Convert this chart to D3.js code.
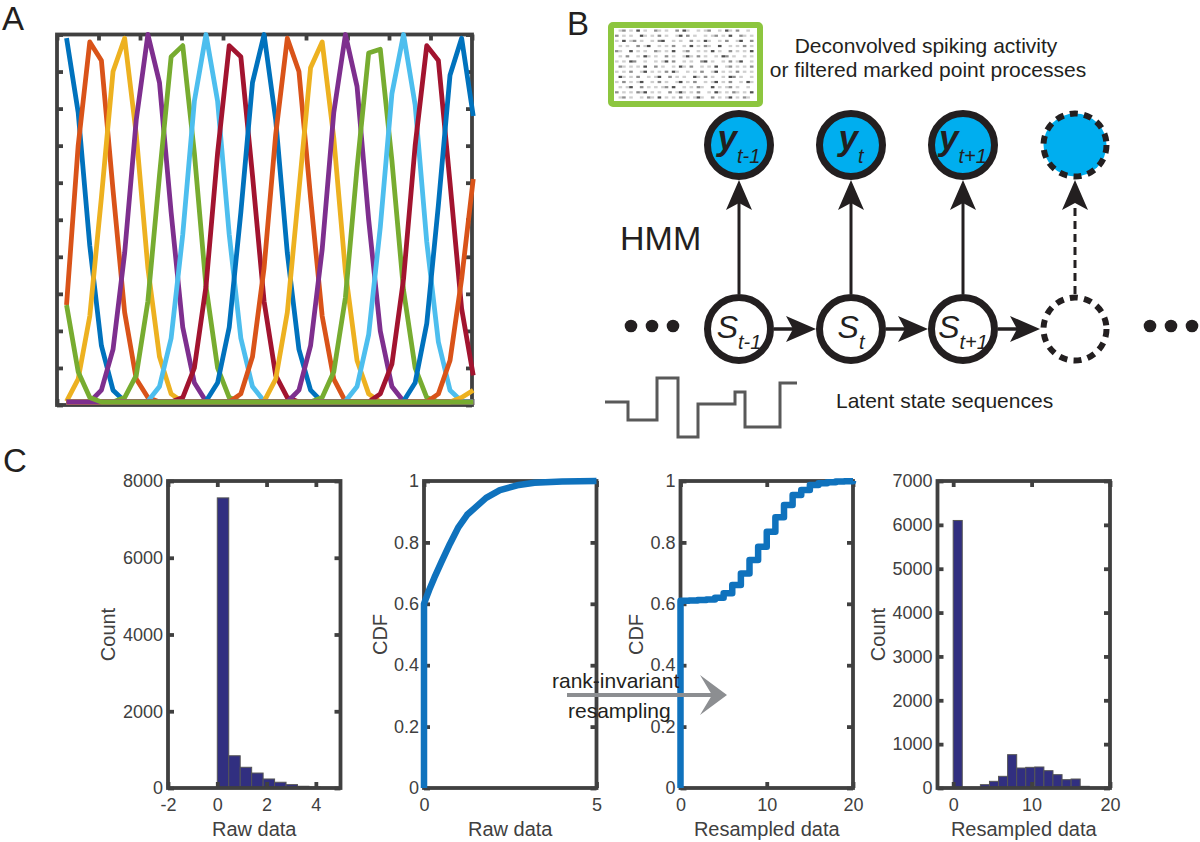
<!DOCTYPE html>
<html>
<head>
<meta charset="utf-8">
<script src="https://cdn.jsdelivr.net/npm/d3@7"></script>
<style>
  body { margin: 0; background: #fff; }
  svg { display: block; }
</style>
</head>
<body>
<svg id="fig" width="1200" height="842"></svg>
<script>
// ---------- data ----------

// A: place-field tuning curves, sampled on a common position grid
const positionGrid = [0.23, 0.51, 0.79, 1.07, 1.35, 1.63, 1.91, 2.19, 2.47, 2.75, 3.03, 3.31,
    3.59, 3.87, 4.15, 4.43, 4.71, 4.99, 5.27, 5.55, 5.83, 6.11, 6.39, 6.67, 6.95, 7.23, 7.51,
    7.79, 8.07, 8.35, 8.63, 8.91, 9.19, 9.47, 9.75, 10.03];
const tuningFloor = 0.008;
// first grid index where each curve leaves the floor
const tuningStart = [0, 0, 0, 3, 5, 7, 10, 12, 15, 17, 20, 22, 24, 27, 29, 32, 34, 0, 0];
const tuningValues = [
    [0.99, 0.79, 0.43, 0.16, 0.04, 0.01],
    [0.27, 0.70, 0.98, 0.93, 0.58, 0.25, 0.07, 0.02],
    [0.01, 0.07, 0.24, 0.56, 0.90, 0.99, 0.73, 0.37, 0.13, 0.03],
    [0.04, 0.15, 0.41, 0.77, 1.00, 0.87, 0.52, 0.21, 0.06, 0.01],
    [0.02, 0.08, 0.28, 0.62, 0.94, 0.97, 0.68, 0.32, 0.10, 0.02],
    [0.01, 0.05, 0.18, 0.46, 0.82, 1.00, 0.82, 0.46, 0.18, 0.05, 0.01],
    [0.02, 0.10, 0.32, 0.68, 0.97, 0.94, 0.62, 0.28, 0.08, 0.02],
    [0.01, 0.06, 0.21, 0.52, 0.87, 1.00, 0.77, 0.41, 0.15, 0.04],
    [0.03, 0.13, 0.37, 0.73, 0.99, 0.90, 0.56, 0.24, 0.07, 0.01],
    [0.01, 0.07, 0.25, 0.58, 0.91, 0.98, 0.72, 0.36, 0.12, 0.03],
    [0.04, 0.16, 0.42, 0.79, 1.00, 0.86, 0.50, 0.20, 0.05, 0.01],
    [0.02, 0.09, 0.29, 0.64, 0.95, 0.96, 0.66, 0.31, 0.10, 0.02],
    [0.01, 0.05, 0.19, 0.48, 0.84, 1.00, 0.81, 0.44, 0.17, 0.04, 0.01],
    [0.03, 0.11, 0.34, 0.70, 0.97, 0.93, 0.60, 0.26, 0.08],
    [0.01, 0.06, 0.22, 0.54, 0.89, 0.99, 0.78],
    [0.03, 0.12, 0.34, 0.61],
    [0.02, 0.04],
    [],
    [0.27, 0.09, 0.02]
];
const positionTicks = [0, 1, 2, 3, 4, 5, 6, 7, 8, 9, 10];
const rateTicks = [0, 0.1, 0.2, 0.3, 0.4, 0.5, 0.6, 0.7, 0.8, 0.9, 1];

// B: spike raster thumbnail ('#' dark, '+' mid, '.' faint) and a latent state path
const rasterRows = [
    " .+ . # .  +. .  + #.  . .+  . #. +  .",
    "+ . .  #. . + .  .# + .  . .+ . #  +. .",
    ". # .+ .  . +#  . .  + . #.  . +  .#  +",
    " . .  + .#  . . +  . # . +.  #  . . + .",
    "+.  # . .  +. . #  .+  . . # .  + . . #",
    " . +  . #. .  + .  .#. + .  . #+ .  . .",
    ". . #+  .  . .# +  . .  +# .  . + .#  .",
    " +. . . #  + .  . #. +  . . #  .+ . . +",
    ". . +  .# . . + #.  . . +  .# . . + . .",
    " #. . +  . .#  + . .  #. + .  . #+ .  .",
    ". + . .#  . + .  .# . +  . .# . +  . #.",
    " . .#  + . . .+ #  . . +.  # . .+ .  . ",
    "+ . . +.# . .  + .#. . +  . #. . +. . #",
    " .+ .  . +. # . . + . .#.  + . .# . +. "
];
const stateTimes = [0, 23, 52, 73, 93, 130, 140, 175, 192];
const stateLevels = [35, 17, 59, 0, 33, 45, 10, 54, 54];
const hmmSubscripts = ["t-1", "t", "t+1"];

// C: raw data histogram and CDF
const rawBinEdges = [0, 0.465, 0.93, 1.395, 1.86, 2.325, 2.79, 3.255, 3.72, 4.185, 4.65];
const rawCounts = [7560, 840, 540, 390, 235, 150, 88, 45, 25, 12];
const rawHistXTicks = [-2, 0, 2, 4];
const rawCountTicks = [0, 2000, 4000, 6000, 8000];
const rawCdfX = [0, 0, 0.05, 0.15, 0.3, 0.5, 0.75, 1.0, 1.25, 1.5, 1.8, 2.2, 2.7, 3.2, 4.0, 5.0];
const rawCdfY = [0, 0.6, 0.615, 0.645, 0.685, 0.735, 0.795, 0.85, 0.89, 0.915, 0.945, 0.97, 0.986, 0.994, 0.998, 1.0];
const rawCdfXTicks = [0, 5];
const cdfTicks = [0, 0.2, 0.4, 0.6, 0.8, 1];

// C: resampled data CDF and histogram
const resampledCdfX = [0, 0, 1, 2, 3, 4, 5, 6, 7, 8, 9, 10, 11, 12, 13, 14, 15, 16, 17, 18, 19, 20];
const resampledCdfY = [0, 0.61, 0.611, 0.612, 0.614, 0.62, 0.634, 0.661, 0.699, 0.743, 0.786, 0.835,
    0.882, 0.922, 0.954, 0.971, 0.987, 0.993, 0.996, 0.998, 0.999, 1.0];
const resampledBinEdges = [0, 1.157, 2.314, 3.471, 4.628, 5.785, 6.942, 8.099, 9.256, 10.413,
    11.57, 12.727, 13.884, 15.041, 16.198, 17.355];
const resampledCounts = [6100, 12, 12, 76, 152, 266, 760, 456, 471, 479, 395, 304, 190, 205, 38];
const resampledXTicks = [0, 10, 20];
const resampledCountTicks = [0, 1000, 2000, 3000, 4000, 5000, 6000, 7000];

// ---------- styles ----------
const FONT = '"Liberation Sans", Arial, Helvetica, sans-serif';
const matlabColors = ["#0072BD", "#D95319", "#EDB120", "#7E2F8E", "#77AC30", "#4DBEEE", "#A2142F"];
const axisColor = "#404040";
const ink = "#231F20";
const axisWidth = 3.8;

const svg = d3.select("#fig").attr("font-family", FONT);
svg.append("rect").attr("width", 1200).attr("height", 842).attr("fill", "#fff");

// panel letters
svg.append("text").attr("x", 2).attr("y", 30).attr("font-size", 33).attr("fill", ink).text("A");
svg.append("text").attr("x", 567).attr("y", 35).attr("font-size", 33).attr("fill", ink).text("B");
svg.append("text").attr("x", 3).attr("y", 472).attr("font-size", 33).attr("fill", ink).text("C");

// draws box + mirrored inside ticks; returns the axis groups for labelled sides
function drawFrame(g, x, y, xTicks, yTicks, withLabels) {
    const [x0, x1] = x.range();
    const [y0, y1] = y.range();
    const fmt = withLabels ? (d => String(d)) : () => "";

    const axes = [
        g.append("g").attr("transform", `translate(0,${y0})`)
            .call(d3.axisBottom(x).tickValues(xTicks).tickSizeInner(-6).tickSizeOuter(0).tickPadding(10).tickFormat(fmt)),
        g.append("g").attr("transform", `translate(${x0},0)`)
            .call(d3.axisLeft(y).tickValues(yTicks).tickSizeInner(-6).tickSizeOuter(0).tickPadding(5).tickFormat(fmt)),
        g.append("g").attr("transform", `translate(0,${y1})`)
            .call(d3.axisTop(x).tickValues(xTicks).tickSizeInner(-6).tickSizeOuter(0).tickFormat("")),
        g.append("g").attr("transform", `translate(${x1},0)`)
            .call(d3.axisRight(y).tickValues(yTicks).tickSizeInner(-6).tickSizeOuter(0).tickFormat(""))
    ];
    axes.forEach(a => {
        a.attr("color", axisColor).attr("font-family", FONT).attr("font-size", 18);
        a.select(".domain").remove();
        a.selectAll(".tick line").attr("stroke-width", axisWidth);
    });

    g.append("rect")
        .attr("x", x0).attr("y", y1)
        .attr("width", x1 - x0).attr("height", y0 - y1)
        .attr("fill", "none")
        .attr("stroke", axisColor)
        .attr("stroke-width", axisWidth);
}

// ---------- A ----------
{
    const xA = d3.scaleLinear().domain([0, 10]).range([57, 472]);
    const yA = d3.scaleLinear().domain([0, 1]).range([405, 34.5]);
    const gA = svg.append("g");
    drawFrame(gA.append("g"), xA, yA, positionTicks, rateTicks, false);

    const lineA = d3.line()
        .x((d, k) => xA(positionGrid[k]))
        .y(d => yA(d));

    tuningValues.forEach((vals, j) => {
        const start = tuningStart[j];
        const series = positionGrid.map((_, k) =>
            (k >= start && k < start + vals.length) ? vals[k - start] : tuningFloor);
        gA.append("path")
            .attr("d", lineA(series))
            .attr("fill", "none")
            .attr("stroke", matlabColors[j % matlabColors.length])
            .attr("stroke-width", 4.8)
            .attr("stroke-linejoin", "round");
    });
}

// ---------- B ----------
{
    const gB = svg.append("g");

    // raster thumbnail in a green frame
    const rasterX = d3.scaleLinear().domain([0, 40]).range([615, 757]);
    const rasterY = d3.scaleLinear().domain([0, rasterRows.length]).range([28, 100]);
    const shade = { "#": "#505050", "+": "#8f8f8f", ".": "#cfcfcf" };
    rasterRows.forEach((row, r) => {
        row.split("").forEach((ch, c) => {
            if (!shade[ch]) return;
            gB.append("rect")
                .attr("x", rasterX(c)).attr("y", rasterY(r) + 1.5)
                .attr("width", 3.6).attr("height", 2.2)
                .attr("fill", shade[ch]);
        });
    });
    gB.append("rect")
        .attr("x", 611).attr("y", 25).attr("width", 149).attr("height", 79)
        .attr("rx", 2)
        .attr("fill", "none").attr("stroke", "#8DC63F").attr("stroke-width", 6);

    gB.append("text").attr("x", 926).attr("y", 53).attr("text-anchor", "middle")
        .attr("font-size", 21).attr("fill", ink).text("Deconvolved spiking activity");
    gB.append("text").attr("x", 928).attr("y", 77).attr("text-anchor", "middle")
        .attr("font-size", 21).attr("fill", ink).text("or filtered marked point processes");

    gB.append("text").attr("x", 620).attr("y", 250)
        .attr("font-size", 34).attr("fill", ink).text("HMM");

    const nodeX = d3.scaleLinear().domain([0, 3]).range([739, 1075]);
    const obsY = 145, stateY = 329, r = 31.5, outer = 35;

    const arrowHead = (tx, ty, angle) => gB.append("path")
        .attr("d", "M0,0 L-30,-13 L-23,0 L-30,13 Z")
        .attr("transform", `translate(${tx},${ty}) rotate(${angle})`)
        .attr("fill", ink);

    // vertical emission arrows
    d3.range(4).forEach(i => {
        const cx = nodeX(i);
        gB.append("line")
            .attr("x1", cx).attr("x2", cx)
            .attr("y1", stateY - outer).attr("y2", obsY + outer + 22)
            .attr("stroke", ink).attr("stroke-width", 3)
            .attr("stroke-dasharray", i === 3 ? "8 5" : null);
        arrowHead(cx, obsY + outer, -90);
    });

    // horizontal transition arrows
    d3.range(3).forEach(i => {
        const x1 = nodeX(i) + outer, tip = nodeX(i + 1) - outer;
        gB.append("line")
            .attr("x1", x1).attr("x2", tip - 22)
            .attr("y1", stateY).attr("y2", stateY)
            .attr("stroke", ink).attr("stroke-width", 3.5);
        arrowHead(tip, stateY, 0);
    });

    // observation nodes
    d3.range(4).forEach(i => {
        gB.append("circle")
            .attr("cx", nodeX(i)).attr("cy", obsY).attr("r", r)
            .attr("fill", "#00AEEF")
            .attr("stroke", ink).attr("stroke-width", i === 3 ? 6 : 7)
            .attr("stroke-dasharray", i === 3 ? "8 6.3" : null);
        gB.append("circle")
            .attr("cx", nodeX(i)).attr("cy", stateY).attr("r", r)
            .attr("fill", "#fff")
            .attr("stroke", ink).attr("stroke-width", i === 3 ? 6 : 7)
            .attr("stroke-dasharray", i === 3 ? "8 6.3" : null);
    });

    hmmSubscripts.forEach((sub, i) => {
        const ty = gB.append("text")
            .attr("x", nodeX(i)).attr("y", obsY + 5)
            .attr("text-anchor", "middle").attr("fill", ink);
        ty.append("tspan").attr("font-size", 35).attr("font-weight", "bold")
            .attr("font-style", "italic").text("y");
        ty.append("tspan").attr("font-size", 20).attr("font-style", "italic")
            .attr("dy", 13).text(sub);

        const ts = gB.append("text")
            .attr("x", nodeX(i)).attr("y", stateY + 9)
            .attr("text-anchor", "middle").attr("fill", ink);
        ts.append("tspan").attr("font-size", 32).attr("font-style", "italic").text("S");
        ts.append("tspan").attr("font-size", 20).attr("font-style", "italic")
            .attr("dy", 11).text(sub);
    });

    // ellipsis dots
    [[631, 652, 673], [1150, 1171, 1192]].forEach(xs => xs.forEach(x =>
        gB.append("circle").attr("cx", x).attr("cy", 326).attr("r", 6.3).attr("fill", ink)));

    // latent state sequence
    const sx = d3.scaleLinear().domain([0, 192]).range([605, 797]);
    const sy = d3.scaleLinear().domain([0, 59]).range([437, 378]);
    gB.append("path")
        .attr("d", d3.line().x((d, i) => sx(stateTimes[i])).y(d => sy(d)).curve(d3.curveStepAfter)(stateLevels))
        .attr("fill", "none").attr("stroke", "#595959").attr("stroke-width", 3);
    gB.append("text").attr("x", 836).attr("y", 408)
        .attr("font-size", 21).attr("fill", ink).text("Latent state sequences");
}

// ---------- C ----------
const plotTop = 481, plotBottom = 788, plotW = 172.5;
const panelsC = [
    { left: 168, xDomain: [-2, 5], yDomain: [0, 8000], xTicks: rawHistXTicks, yTicks: rawCountTicks,
      xLabel: "Raw data", yLabel: "Count", yGap: 53, bars: [rawBinEdges, rawCounts] },
    { left: 424, xDomain: [0, 5], yDomain: [0, 1], xTicks: rawCdfXTicks, yTicks: cdfTicks,
      xLabel: "Raw data", yLabel: "CDF", yGap: 37, line: [rawCdfX, rawCdfY] },
    { left: 680.5, xDomain: [0, 20], yDomain: [0, 1], xTicks: resampledXTicks, yTicks: cdfTicks,
      xLabel: "Resampled data", yLabel: "CDF", yGap: 37.5, line: [resampledCdfX, resampledCdfY], step: true },
    { left: 937.5, xDomain: [-2, 20], yDomain: [0, 7000], xTicks: resampledXTicks, yTicks: resampledCountTicks,
      xLabel: "Resampled data", yLabel: "Count", yGap: 52.5, bars: [resampledBinEdges, resampledCounts] }
];

panelsC.forEach(p => {
    const x = d3.scaleLinear().domain(p.xDomain).range([p.left, p.left + plotW]);
    const y = d3.scaleLinear().domain(p.yDomain).range([plotBottom, plotTop]);
    const g = svg.append("g");

    if (p.bars) {
        const [edges, counts] = p.bars;
        g.selectAll("rect.bar").data(counts).join("rect")
            .attr("class", "bar")
            .attr("x", (d, i) => x(edges[i]))
            .attr("width", (d, i) => x(edges[i + 1]) - x(edges[i]))
            .attr("y", d => y(d))
            .attr("height", d => y(0) - y(d))
            .attr("fill", "#312F80")
            .attr("stroke", "#555")
            .attr("stroke-width", 1);
    }

    drawFrame(g.append("g"), x, y, p.xTicks, p.yTicks, true);

    if (p.line) {
        const [xs, ys] = p.line;
        const line = d3.line()
            .x((d, i) => x(xs[i]))
            .y(d => y(d))
            .curve(p.step ? d3.curveStepAfter : d3.curveLinear);
        g.append("path")
            .attr("d", line(ys))
            .attr("fill", "none")
            .attr("stroke", "#0F72BD")
            .attr("stroke-width", 6.5)
            .attr("stroke-linejoin", "round");
    }

    g.append("text")
        .attr("x", p.left + plotW / 2).attr("y", 836)
        .attr("text-anchor", "middle").attr("font-size", 20).attr("fill", axisColor)
        .text(p.xLabel);
    g.append("text")
        .attr("transform", `translate(${p.left - p.yGap},${(plotTop + plotBottom) / 2}) rotate(-90)`)
        .attr("text-anchor", "middle").attr("font-size", 20).attr("fill", axisColor)
        .text(p.yLabel);
});

// rank-invariant resampling arrow between the CDFs
svg.append("line")
    .attr("x1", 567).attr("x2", 713).attr("y1", 695).attr("y2", 695)
    .attr("stroke", "#8C8E91").attr("stroke-width", 4);
svg.append("path")
    .attr("d", "M0,0 L-27,-20 L-15,0 L-27,20 Z")
    .attr("transform", "translate(727,695)")
    .attr("fill", "#8C8E91");
svg.append("text").attr("x", 552).attr("y", 688)
    .attr("font-size", 21).attr("fill", ink).text("rank-invariant");
svg.append("text").attr("x", 568).attr("y", 718)
    .attr("font-size", 21).attr("fill", ink).text("resampling");
</script>
</body>
</html>
